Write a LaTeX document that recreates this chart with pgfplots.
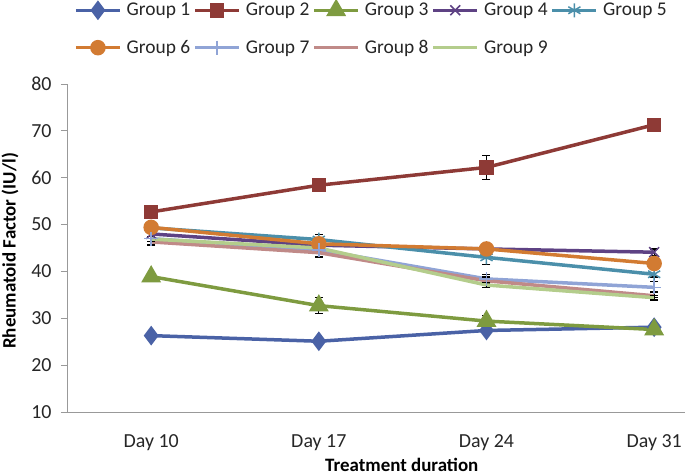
\documentclass[border=0pt]{standalone}
\usepackage{pgfplots}
\pgfplotsset{compat=1.18}
\usepackage{fontspec}
\setmainfont{Carlito}
\definecolor{c1}{HTML}{4A62A6}
\definecolor{c2}{HTML}{8E3A36}
\definecolor{c3}{HTML}{7E9B40}
\definecolor{c4}{HTML}{5E4284}
\definecolor{c5}{HTML}{4B8FAA}
\definecolor{c6}{HTML}{D27B32}
\definecolor{c7}{HTML}{90A4D6}
\definecolor{c8}{HTML}{C08A88}
\definecolor{c9}{HTML}{B4CD8C}
\begin{document}
\begin{tikzpicture}
\begin{axis}[
  at={(0,0)}, anchor=south west,
  scale only axis, width=617bp, height=328bp,
  xmin=-0.496, xmax=3.184, ymin=10, ymax=80,
  axis lines=left, axis line style={-, draw=gray!80, line width=1bp},
  xtick={0,1,2,3}, xticklabels={Day 10,Day 17,Day 24,Day 31},
  ytick={10,20,...,80},
  tick align=outside, major tick length=7bp,
  xtick style={draw=none}, ytick style={draw=gray!80, line width=1bp},
  /pgf/number format/assume math mode=true,
  tick label style={font=\fontsize{20}{23}\selectfont, text=black!85},
  xticklabel style={yshift=-12bp},
  yticklabel style={xshift=-6bp},
  xlabel={Treatment duration}, ylabel={Rheumatoid Factor (IU/l)},
  label style={font=\fontsize{19}{22}\selectfont\bfseries},
  xlabel style={at={(axis description cs:0.541,0)}, anchor=base, yshift=-59bp},
  ylabel style={at={(axis description cs:-0.094,0.491)}, anchor=center},
  every axis plot/.append style={line width=3.5bp},
  error bars/y dir=both, error bars/y explicit,
  error bars/error bar style={black, line width=1.2bp},
  error bars/error mark options={black, rotate=90, mark size=4bp, line width=1.2bp},
  legend columns=5,
  legend cell align=left,
  legend style={at={(axis description cs:0.0097,1.250)}, anchor=north west,
    draw=none, fill=none, inner sep=0pt, font=\fontsize{19.5}{22}\selectfont,
    nodes={inner sep=1bp, text=black!85}, row sep=21bp,
    /tikz/every even column/.append style={column sep=2bp},
    /tikz/every odd column/.append style={column sep=4bp}},
  legend image code/.code={\draw[mark repeat=2,mark phase=2,#1] plot coordinates {(0bp,0bp) (22bp,0bp) (44bp,0bp)};},
]
\addplot[c1, mark=diamond*, mark size=7bp, mark options={solid}] coordinates
  {(0,26.3) +- (0,0.5) (1,25.1) +- (0,0.3) (2,27.4) +- (0,0.5) (3,28.1) +- (0,0.5)};
\addlegendentry{Group 1}
\addplot[c2, mark=square*, mark size=5.5bp] coordinates
  {(0,52.7) +- (0,0.5) (1,58.4) +- (0,0.5) (2,62.2) +- (0,2.6) (3,71.3) +- (0,0.5)};
\addlegendentry{Group 2}
\addplot[c3, mark=triangle*, mark size=8bp] coordinates
  {(0,38.9) +- (0,0.7) (1,32.7) +- (0,1.7) (2,29.4) +- (0,1.2) (3,27.6) +- (0,0.5)};
\addlegendentry{Group 3}
\addplot[c4, mark=x, mark size=7bp, mark options={line width=1.5bp}] coordinates
  {(0,48.0) +- (0,2.3) (1,45.6) +- (0,1.0) (2,44.8) +- (0,1.0) (3,44.1) +- (0,0.7)};
\addlegendentry{Group 4}
\addplot[c5, mark=asterisk, mark size=7bp, mark options={line width=1.5bp}] coordinates
  {(0,49.3) +- (0,1.0) (1,46.8) +- (0,1.0) (2,43.0) +- (0,1.5) (3,39.4) +- (0,1.5)};
\addlegendentry{Group 5}
\addplot[c6, mark=*, mark size=6bp] coordinates
  {(0,49.4) +- (0,0.5) (1,45.9) +- (0,0.8) (2,44.8) +- (0,0.8) (3,41.7) +- (0,1.0)};
\addlegendentry{Group 6}
\addplot[c7, mark=+, mark size=7bp, mark options={line width=1.5bp}] coordinates
  {(0,47.0) +- (0,1.5) (1,44.6) +- (0,1.5) (2,38.4) +- (0,1.0) (3,36.6) +- (0,2.2)};
\addlegendentry{Group 7}
\addplot[c8, no marks] coordinates
  {(0,46.3) +- (0,0.8) (1,44.0) +- (0,0.8) (2,38.0) +- (0,0.8) (3,34.8) +- (0,0.8)};
\addlegendentry{Group 8}
\addplot[c9, no marks] coordinates
  {(0,46.9) +- (0,0.5) (1,45.0) +- (0,0.5) (2,37.1) +- (0,0.5) (3,34.4) +- (0,0.5)};
\addlegendentry{Group 9}
\end{axis}
\pgfresetboundingbox
\path[use as bounding box] (-68bp,-64bp) rectangle (617bp,412bp);
\end{tikzpicture}
\end{document}
